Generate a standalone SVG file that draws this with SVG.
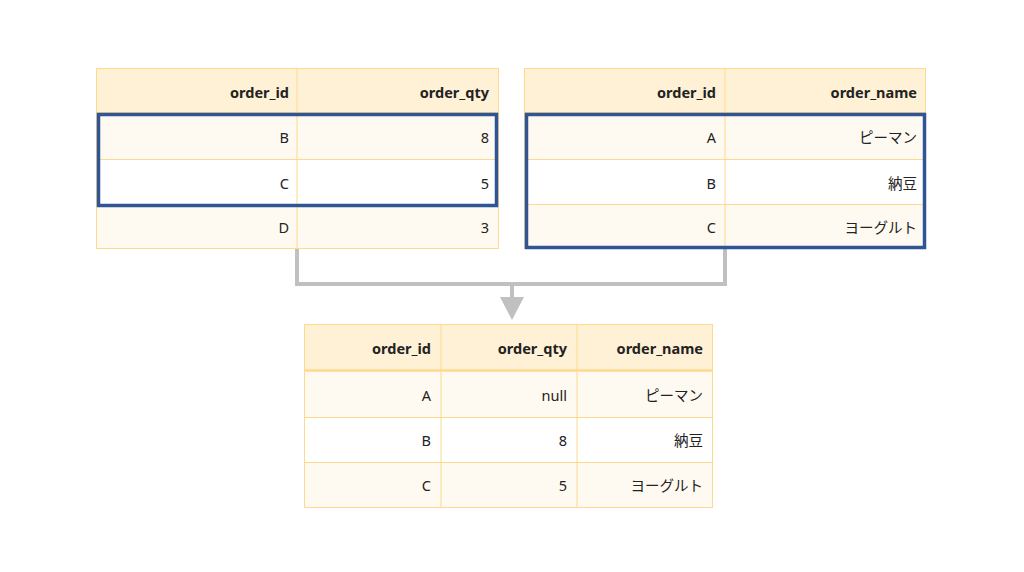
<svg xmlns="http://www.w3.org/2000/svg" width="1024" height="572" viewBox="0 0 1024 572">
<defs>
<style>
.bg{fill:#ffffff}
.hd{fill:#fff1d6}
.odd{fill:#fffaf1}
.even{fill:#ffffff}
.grid{stroke:#ffd98e;stroke-width:1;fill:none}
.sel{stroke:#2e5596;stroke-width:3.5;fill:none}
.conn{stroke:#c0c0c0;stroke-width:4;fill:none}
text{font-family:"Noto Sans","Noto Sans CJK JP",sans-serif;font-size:14.5px;fill:#222;text-anchor:end}
.h{font-weight:bold}
</style>
</defs>
<rect class="bg" x="0" y="0" width="1024" height="572"/>

<g id="connectors">
<polyline class="conn" points="297,249 297,284 725,284 725,249"/>
<line class="conn" x1="512" y1="284" x2="512" y2="299"/>
<polygon points="500,297 524,297 512,320" fill="#c0c0c0"/>
</g>

<g id="table-left">
<rect class="hd" x="96" y="68" width="403" height="44"/>
<rect class="odd" x="96" y="112" width="403" height="47"/>
<rect class="even" x="96" y="159" width="403" height="45"/>
<rect class="odd" x="96" y="204" width="403" height="44"/>
<rect class="grid" x="96.5" y="68.5" width="402" height="180"/>
<line class="grid" x1="297" y1="68" x2="297" y2="248"/>
<line class="grid" x1="96" y1="112.5" x2="499" y2="112.5"/>
<line class="grid" x1="96" y1="159.5" x2="499" y2="159.5"/>
<line class="grid" x1="96" y1="204.5" x2="499" y2="204.5"/>
<text class="h" x="289" y="98">order_id</text>
<text class="h" x="489" y="98">order_qty</text>
<text x="289" y="143">B</text>
<text x="489" y="143">8</text>
<text x="289" y="189">C</text>
<text x="489" y="189">5</text>
<text x="289" y="233">D</text>
<text x="489" y="233">3</text>
<rect class="sel" x="98.5" y="114.5" width="398" height="91"/>
</g>

<g id="table-right">
<rect class="hd" x="524" y="68" width="402" height="44"/>
<rect class="odd" x="524" y="112" width="402" height="47"/>
<rect class="even" x="524" y="159" width="402" height="45"/>
<rect class="odd" x="524" y="204" width="402" height="44"/>
<rect class="grid" x="524.5" y="68.5" width="401" height="180"/>
<line class="grid" x1="725" y1="68" x2="725" y2="248"/>
<line class="grid" x1="524" y1="112.5" x2="926" y2="112.5"/>
<line class="grid" x1="524" y1="159.5" x2="926" y2="159.5"/>
<line class="grid" x1="524" y1="204.5" x2="926" y2="204.5"/>
<text class="h" x="716" y="98">order_id</text>
<text class="h" x="917" y="98">order_name</text>
<text x="716" y="143">A</text>
<text x="917" y="143">ピーマン</text>
<text x="716" y="189">B</text>
<text x="917" y="189">納豆</text>
<text x="716" y="233">C</text>
<text x="917" y="233">ヨーグルト</text>
<rect class="sel" x="526.5" y="114.5" width="398" height="133"/>
</g>

<g id="table-result">
<rect class="hd" x="304" y="324" width="409" height="46"/>
<rect class="odd" x="304" y="370" width="409" height="47"/>
<rect class="even" x="304" y="417" width="409" height="45"/>
<rect class="odd" x="304" y="462" width="409" height="45"/>
<rect class="grid" x="304.5" y="324.5" width="408" height="183"/>
<line class="grid" x1="441" y1="324" x2="441" y2="507"/>
<line class="grid" x1="577" y1="324" x2="577" y2="507"/>
<line x1="304" y1="370.5" x2="713" y2="370.5" stroke="#ffd98e" stroke-width="2.5"/>
<line class="grid" x1="304" y1="417.5" x2="713" y2="417.5"/>
<line class="grid" x1="304" y1="462.5" x2="713" y2="462.5"/>
<text class="h" x="431" y="354">order_id</text>
<text class="h" x="567" y="354">order_qty</text>
<text class="h" x="703" y="354">order_name</text>
<text x="431" y="401">A</text>
<text x="567" y="401">null</text>
<text x="703" y="401">ピーマン</text>
<text x="431" y="446">B</text>
<text x="567" y="446">8</text>
<text x="703" y="446">納豆</text>
<text x="431" y="491">C</text>
<text x="567" y="491">5</text>
<text x="703" y="491">ヨーグルト</text>
</g>
</svg>
